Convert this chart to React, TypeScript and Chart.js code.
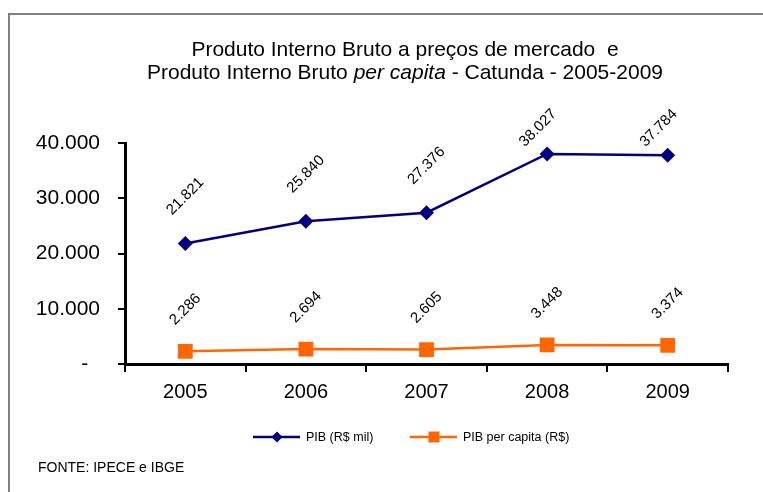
import React, { useEffect, useRef } from 'react';
import { Chart, registerables } from 'chart.js';

Chart.register(...registerables);

const years = ['2005', '2006', '2007', '2008', '2009'];
const pibMil = [21821, 25840, 27376, 38027, 37784];
const pibPerCapita = [2286, 2694, 2605, 3448, 3374];
const yMin = 0;
const yMax = 40000;
const yStep = 10000;
const titleLine1 = 'Produto Interno Bruto a preços de mercado  e';
const titleLine2 = [
  { text: 'Produto Interno Bruto ', italic: false },
  { text: 'per capita', italic: true },
  { text: ' - Catunda - 2005-2009', italic: false },
];
const seriesNames = ['PIB (R$ mil)', 'PIB per capita (R$)'];
const sourceText = 'FONTE: IPECE e IBGE';

const BLUE = '#000080';
const ORANGE = '#FF6600';
const FONT = '"Liberation Sans", Arial, Helvetica, sans-serif';

function fmt(n: number): string {
  const s = Math.round(n).toString();
  return s.replace(/\B(?=(\d{3})+(?!\d))/g, '.');
}

const decorPlugin = {
  id: 'decor',
  beforeDraw(chart: any) {
    const ctx = chart.ctx;
    ctx.save();
    ctx.fillStyle = '#ffffff';
    ctx.fillRect(0, 0, chart.width, chart.height);
    ctx.strokeStyle = '#808080';
    ctx.lineWidth = 2;
    ctx.strokeRect(9, 14, chart.width + 20, chart.height + 20);
    ctx.restore();
  },
  afterDatasetsDraw(chart: any) {
    const ctx = chart.ctx;
    ctx.save();
    ctx.fillStyle = '#000';
    ctx.font = `15px ${FONT}`;
    ctx.textAlign = 'center';
    ctx.textBaseline = 'middle';
    const offsets = [47, 42];
    chart.data.datasets.forEach((ds: any, di: number) => {
      const meta = chart.getDatasetMeta(di);
      meta.data.forEach((pt: any, i: number) => {
        let x = pt.x;
        let y = pt.y - offsets[di];
        if (y < 128) {
          y = 128;
          x -= 9;
        }
        ctx.save();
        ctx.translate(x, y);
        ctx.rotate(-Math.PI / 4);
        ctx.fillText(fmt(ds.data[i]), 0, 0);
        ctx.restore();
      });
    });
    ctx.restore();
  },
  afterDraw(chart: any) {
    const ctx = chart.ctx;
    ctx.save();
    ctx.fillStyle = '#000';
    ctx.textBaseline = 'alphabetic';
    // title
    const cx = 405;
    const tsize = 21;
    ctx.font = `${tsize}px ${FONT}`;
    ctx.textAlign = 'center';
    ctx.fillText(titleLine1, cx, 56);
    const fonts = titleLine2.map((p) =>
      p.italic ? `italic ${tsize}px ${FONT}` : `${tsize}px ${FONT}`
    );
    let total = 0;
    const widths = titleLine2.map((p, i) => {
      ctx.font = fonts[i];
      const w = ctx.measureText(p.text).width;
      total += w;
      return w;
    });
    let x = cx - total / 2;
    ctx.textAlign = 'left';
    titleLine2.forEach((p, i) => {
      ctx.font = fonts[i];
      ctx.fillText(p.text, x, 79);
      x += widths[i];
    });
    // legend
    const ly = 437;
    const items = [
      { x: 253, color: BLUE, style: 'diamond', label: seriesNames[0] },
      { x: 410, color: ORANGE, style: 'square', label: seriesNames[1] },
    ];
    items.forEach((it) => {
      ctx.strokeStyle = it.color;
      ctx.lineWidth = 2.5;
      ctx.beginPath();
      ctx.moveTo(it.x, ly);
      ctx.lineTo(it.x + 47, ly);
      ctx.stroke();
      ctx.fillStyle = it.color;
      const mx = it.x + 24;
      ctx.beginPath();
      if (it.style === 'diamond') {
        ctx.moveTo(mx, ly - 5.5);
        ctx.lineTo(mx + 5.5, ly);
        ctx.lineTo(mx, ly + 5.5);
        ctx.lineTo(mx - 5.5, ly);
        ctx.closePath();
      } else {
        ctx.rect(mx - 5.5, ly - 5.5, 11, 11);
      }
      ctx.fill();
      ctx.fillStyle = '#000';
      ctx.font = `12.5px ${FONT}`;
      ctx.textAlign = 'left';
      ctx.textBaseline = 'middle';
      ctx.fillText(it.label, it.x + 53, ly + 1);
    });
    // source
    ctx.font = `14px ${FONT}`;
    ctx.textAlign = 'left';
    ctx.textBaseline = 'alphabetic';
    ctx.fillText(sourceText, 38, 472);
    ctx.restore();
  },
};

export default function App() {
  const canvasRef = useRef<HTMLCanvasElement | null>(null);

  useEffect(() => {
    document.body.style.margin = '0';
    const canvas = canvasRef.current;
    if (!canvas) return;
    const chart = new Chart(canvas, {
      type: 'line',
      data: {
        labels: years,
        datasets: [
          {
            label: seriesNames[0],
            data: pibMil,
            borderColor: BLUE,
            backgroundColor: BLUE,
            borderWidth: 2.5,
            pointStyle: 'rectRot',
            pointRadius: 7.5,
            pointBorderWidth: 0,
            pointBackgroundColor: BLUE,
            tension: 0,
          },
          {
            label: seriesNames[1],
            data: pibPerCapita,
            borderColor: ORANGE,
            backgroundColor: ORANGE,
            borderWidth: 2.5,
            pointStyle: 'rect',
            pointRadius: 10.5,
            pointBorderWidth: 0,
            pointBackgroundColor: ORANGE,
            tension: 0,
          },
        ],
      },
      options: {
        responsive: false,
        animation: false,
        layout: { padding: { left: 0, right: 35, top: 143, bottom: 78 } },
        plugins: {
          legend: { display: false },
          title: { display: false },
          tooltip: { enabled: false },
        },
        scales: {
          x: {
            offset: true,
            grid: {
              offset: true,
              drawOnChartArea: false,
              drawTicks: true,
              tickLength: 8,
              color: '#000',
              lineWidth: 2,
            },
            border: { color: '#000', width: 3 },
            ticks: {
              color: '#000',
              font: { family: FONT, size: 20 },
              padding: 8,
              maxRotation: 0,
            },
            afterFit: (s: any) => {
              s.height = 50;
            },
          },
          y: {
            min: yMin,
            max: yMax,
            grid: {
              drawOnChartArea: false,
              drawTicks: true,
              tickLength: 7,
              color: '#000',
              lineWidth: 2,
            },
            border: { color: '#000', width: 3 },
            ticks: {
              stepSize: yStep,
              color: '#000',
              font: { family: FONT, size: 21 },
              padding: 18,
              callback: (v: any) => (Number(v) === 0 ? '-  ' : fmt(Number(v))),
            },
            afterFit: (s: any) => {
              s.width = 125;
            },
          },
        },
      },
      plugins: [decorPlugin],
    });
    return () => chart.destroy();
  }, []);

  return (
    <div style={{ width: 763, height: 492 }}>
      <canvas ref={canvasRef} width={763} height={492} />
    </div>
  );
}
